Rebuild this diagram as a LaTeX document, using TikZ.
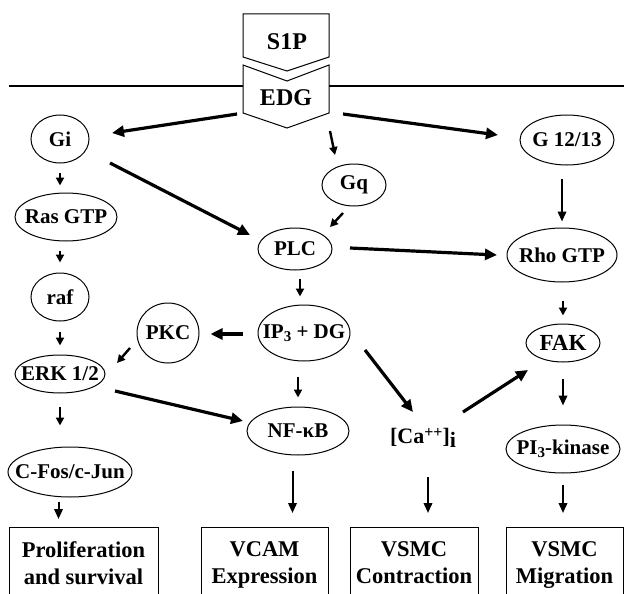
\documentclass[tikz,border=0pt]{standalone}
\usepackage{fontspec}
\setmainfont{Liberation Serif}
\usetikzlibrary{arrows.meta,calc,shapes.geometric}
\newcommand{\zw}[1]{\makebox[0pt][c]{#1}}
\tikzset{
  el/.style={draw, ellipse, line width=1pt, inner sep=0pt, font=\fontsize{21}{23}\selectfont\bfseries},
  boxn/.style={draw, rectangle, line width=1pt, anchor=north, minimum height=90pt},
  boxtext/.style={align=center, anchor=north, inner sep=0pt, font=\fontsize{22.5}{27}\selectfont\bfseries},
  arr/.style={line width=3.2pt, -{Triangle[length=12pt,width=11pt]}},
  sarr/.style={line width=2.4pt, -{Triangle[length=8pt,width=8pt]}},
  larr/.style={line width=2pt, -{Triangle[length=10pt,width=8.5pt]}},
  recep/.style={line width=1pt, line join=miter},
  memb/.style={line width=1.2pt}
}
\begin{document}
\begin{tikzpicture}[x=1pt,y=-1pt]
\useasboundingbox (0,0) rectangle (624,594);
\clip (0,0) rectangle (624,594);
\fill[white] (0,0) rectangle (624,594);
% membrane
\draw[memb] (9,86) -- (243,86);
\draw[memb] (329,86) -- (624,86);
% receptor shapes
\draw[recep] (243,14) -- (329,14) -- (329,57) -- (287,71) -- (243,57) -- cycle;
\draw[recep] (243,65) -- (287,81) -- (329,65) -- (329,113) -- (287,128) -- (243,113) -- cycle;
\node[font=\fontsize{24}{26}\selectfont\bfseries, inner sep=0pt] (s1p) at (287,42) {S1P};
\node[font=\fontsize{24}{26}\selectfont\bfseries, inner sep=0pt, minimum width=86pt, minimum height=48pt] (edg) at (286,98) {\zw{EDG}};
% ellipses
\node[el, minimum width=58pt, minimum height=48pt] (gi) at (60,139) {\zw{Gi}};
\node[el, minimum width=102pt, minimum height=48pt] (ras) at (66,217) {\zw{Ras GTP}};
\node[el, minimum width=58pt, minimum height=48pt] (raf) at (60,297) {\zw{raf}};
\node[el, minimum width=90pt, minimum height=38pt] (erk) at (60,374) {\zw{ERK 1/2}};
\node[el, minimum width=124pt, minimum height=50pt] (cfos) at (70,472) {\zw{C-Fos/c-Jun}};
\node[el, minimum width=62pt, minimum height=60pt] (pkc) at (168,333) {\zw{PKC}};
\node[el, minimum width=74pt, minimum height=42pt] (plc) at (295,249) {\zw{PLC}};
\node[el, minimum width=92pt, minimum height=56pt] (ip3) at (304,333) {\zw{IP\raisebox{-0.35ex}{\fontsize{15}{15}\selectfont 3} + DG}};
\node[el, minimum width=102pt, minimum height=48pt] (nfkb) at (298,431) {\zw{NF-κB}};
\node[el, minimum width=64pt, minimum height=42pt] (gq) at (354,185) {\zw{Gq}};
\node[el, minimum width=94pt, minimum height=50pt] (g1213) at (567,140) {\zw{G 12/13}};
\node[el, minimum width=110pt, minimum height=54pt] (rho) at (562,255) {\zw{Rho GTP}};
\node[el, minimum width=74pt, minimum height=38pt, font=\fontsize{23}{25}\selectfont\bfseries] (fak) at (563,343) {\zw{FAK}};
\node[el, minimum width=114pt, minimum height=48pt] (pi3) at (563,449) {\zw{PI\raisebox{-0.35ex}{\fontsize{15}{15}\selectfont 3}-kinase}};
\node[inner sep=0pt, font=\fontsize{22}{24}\selectfont\bfseries] (ca) at (423,438) {[Ca\raisebox{0.55ex}{\fontsize{16}{16}\selectfont ++}]\raisebox{-0.45ex}{i}};
% boxes
\node[boxn, minimum width=149pt] (prolif) at (83.5,527) {};
\node[boxn, minimum width=127pt] (vcam) at (264.5,527) {};
\node[boxn, minimum width=128pt] (contr) at (414,527) {};
\node[boxn, minimum width=117pt] (migr) at (564.5,527) {};
\node[boxtext] (tprolif) at ($(prolif.north)+(0,14)$) {Proliferation\\and survival};
\node[boxtext] (tvcam) at ($(vcam.north)+(0,14)$) {VCAM\\Expression};
\node[boxtext] (tcontr) at ($(contr.north)+(0,14)$) {VSMC\\Contraction};
\node[boxtext] (tmigr) at ($(migr.north)+(0,14)$) {VSMC\\Migration};
% arrows
\draw[arr] ($(edg)+(-49,16)$) -- ($(gi)+(52,-6)$);
\draw[arr] ($(edg)+(57,16)$) -- ($(g1213)+(-69,-5)$);
\draw[sarr] ($(edg)+(44,33)$) -- ($(gq)+(-19,-30)$);
\draw[arr] ($(gi)+(50,24)$) -- ($(plc)+(-45,-14)$);
\draw[sarr] ($(gi.south)+(0,9)$) -- ($(ras.north -| gi.south)+(0,-7)$);
\draw[sarr] ($(ras.south -| raf.north)+(0,9)$) -- ($(raf.north)+(0,-10)$);
\draw[sarr] ($(raf.south)+(0,10)$) -- ($(erk.north)+(0,-9)$);
\draw[sarr] ($(gq)+(-11,28)$) -- ($(plc)+(35,-22)$);
\draw[arr] ($(plc)+(55,-1)$) -- ($(rho)+(-65,0)$);
\draw[larr] ($(g1213.south -| rho.north)+(0,13)$) -- ($(rho.north)+(0,-6)$);
\draw[sarr] ($(rho.south -| fak.north)+(0,18)$) -- ($(fak.north)+(0,-8)$);
\draw[sarr] ($(plc.south -| ip3.north)+(-4,8)$) -- ($(ip3.north)+(-4,-8)$);
\draw[arr] ($(ip3.west)+(-15,1)$) -- ($(pkc.east)+(11,1)$);
\draw[sarr] ($(pkc)+(-38,15)$) -- ($(erk)+(57,-11)$);
\draw[arr] ($(erk)+(55,17)$) -- ($(nfkb)+(-55,-10)$);
\draw[sarr] ($(ip3.south -| nfkb.north)+(0,15)$) -- ($(nfkb.north)+(0,-9)$);
\draw[arr] ($(ip3)+(61,17)$) -- ($(ca)+(-10,-26)$);
\draw[arr] ($(ca)+(40,-26)$) -- ($(fak)+(-35,27)$);
\draw[larr] ($(fak.south)+(0,16)$) -- ($(pi3.north)+(0,-19)$);
\draw[sarr] ($(erk.south)+(0,13)$) -- ($(cfos.north -| erk.south)+(0,-21)$);
\draw[larr] ($(cfos.south -| prolif.north)+(-25,4)$) -- ($(prolif.north)+(-25,-8)$);
\draw[larr] ($(nfkb.south -| vcam.north)+(28,15)$) -- ($(vcam.north)+(28,-14)$);
\draw[larr] ($(ca)+(5,39)$) -- ($(contr.north)+(14,-14)$);
\draw[larr] ($(pi3.south)+(0,11)$) -- ($(migr.north)+(-1.5,-14)$);
\end{tikzpicture}
\end{document}
